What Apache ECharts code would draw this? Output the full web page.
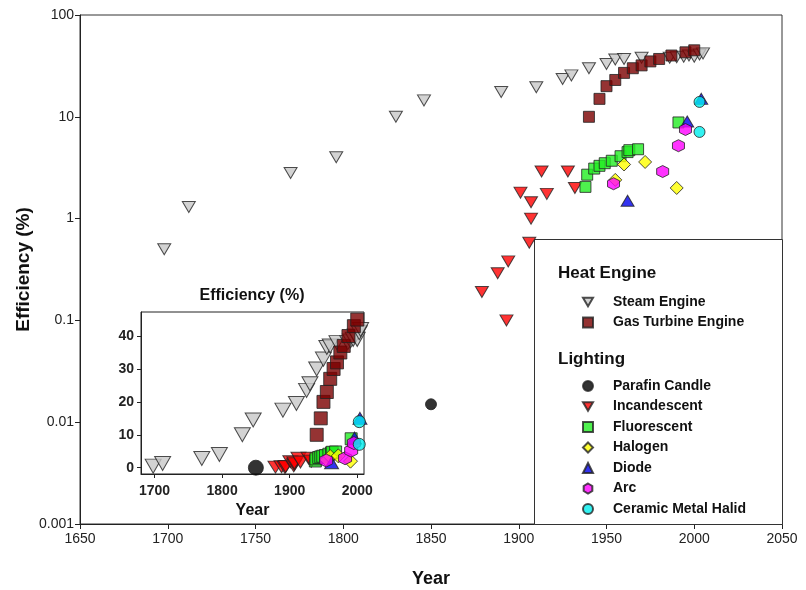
<!DOCTYPE html>
<html>
<head>
<meta charset="utf-8">
<title>Efficiency</title>
<script src="https://cdn.jsdelivr.net/npm/echarts@6/dist/echarts.min.js"></script>
<style>
  html, body { margin: 0; padding: 0; background: #fff; }
  #main { width: 806px; height: 590px; }
</style>
</head>
<body>
<div id="main"></div>
<script>
// data: [year, efficiency %]
var steamEngine = [[1698,0.5],[1712,1.3],[1770,2.8],[1796,4],[1830,10],[1846,14.5],[1890,17.5],[1910,19.5],
    [1925,23.5],[1930,25.5],[1940,30],[1950,33],[1955,36.5],[1960,37],[1970,38],[1986,38],[1990,38.5],
    [1994,39],[1997,40],[2000,39],[2003,41],[2005,42]];
var gasTurbine = [[1940,10],[1946,15],[1950,20],[1955,23],[1960,27],[1965,30],[1970,32],[1975,35],
    [1980,37],[1987,40],[1995,43],[2000,45]];
var parafinCandle = [[1850,0.015]];
var incandescent = [[1879,0.19],[1888,0.29],[1893,0.1],[1894,0.38],[1901,1.8],[1906,0.58],[1907,1.0],
    [1907,1.45],[1913,2.9],[1916,1.75],[1928,2.9],[1932,2.0]];
var fluorescent = [[1938,2.05],[1939,2.7],[1943,3.1],[1946,3.3],[1949,3.5],[1953,3.7],[1958,4.1],
    [1962,4.5],[1963,4.7],[1968,4.8],[1991,8.8]];
var halogen = [[1955,2.4],[1960,3.4],[1972,3.6],[1990,2.0]];
var diode = [[1962,1.5],[1996,9],[2004,15]];
var arc = [[1954,2.2],[1982,2.9],[1991,5.2],[1995,7.5]];
var ceramicMetalHalid = [[2003,14],[2003,7.1]];

var mainXTicks = [1650, 2050, 50];
var mainYTicks = [0.001, 100];
var insetXTicks = [1700, 1800, 1900, 2000];
var insetYTicks = [0, 10, 20, 30, 40];

var FONT = 'Liberation Sans, Arial, sans-serif';
var HEX = 'path://M0,-10L8.66,-5L8.66,5L0,10L-8.66,5L-8.66,-5Z';
var DOWN = 'path://M0,0L20,0L10,17Z';

// one series on the log chart + the same data on the inset
function mkSeries(name, data, symbol, size, insetSize, color){
    var style = { color: color, borderColor: '#222', borderWidth: 1 };
    var base = {
        name: name, type: 'scatter', data: data, symbol: symbol,
        itemStyle: style, emphasis: { disabled: true }, animation: false
    };
    var a = echarts.util.extend({}, base);
    a.symbolSize = size;
    var b = echarts.util.extend({}, base);
    b.symbolSize = insetSize;
    b.xAxisIndex = 1;
    b.yAxisIndex = 1;
    b.z = 10;
    return [a, b];
}

var series = [].concat(
    mkSeries('Steam Engine', steamEngine, DOWN, [13, 11], [16, 14], '#c8c8c8'),
    mkSeries('Gas Turbine Engine', gasTurbine, 'rect', 11, 13, '#7a0000'),
    mkSeries('Parafin Candle', parafinCandle, 'circle', 11, 15, '#000000'),
    mkSeries('Incandescent', incandescent, DOWN, [13, 11], [15, 12], '#ff0000'),
    mkSeries('Fluorescent', fluorescent, 'rect', 11, 12, '#22ee22'),
    mkSeries('Halogen', halogen, 'diamond', 13, 14, '#ffff00'),
    mkSeries('Diode', diode, 'triangle', [13, 11], [14, 12], '#0000ee'),
    mkSeries('Arc', arc, HEX, 12, 13, '#ff00ff'),
    mkSeries('Ceramic Metal Halid', ceramicMetalHalid, 'circle', 11, 12, '#00eeee')
);

var legendText = { fontFamily: FONT, fontWeight: 'bold', fontSize: 14, color: '#111', padding: [0, 0, 0, 15] };

function plain(v){ return String(v); }

var option = {
    backgroundColor: '#fff',
    animation: false,
    textStyle: { fontFamily: FONT },
    grid: [
        { left: 80, right: 24, top: 15, bottom: 66, show: true, borderColor: '#333', borderWidth: 1,
          backgroundColor: 'transparent', outerBoundsMode: 'none' },
        { left: 141, right: 442, top: 312, bottom: 116, show: true, borderColor: '#222', borderWidth: 1,
          backgroundColor: '#fff', z: 5, outerBoundsMode: 'none' }
    ],
    xAxis: [
        {
            type: 'value', gridIndex: 0, min: mainXTicks[0], max: mainXTicks[1], interval: mainXTicks[2],
            name: 'Year', nameLocation: 'middle', nameGap: 46, nameMoveOverlap: false,
            nameTextStyle: { fontFamily: FONT, fontWeight: 'bold', fontSize: 18, color: '#111' },
            axisLine: { lineStyle: { color: '#222' } },
            axisTick: { length: 5, lineStyle: { color: '#222' } },
            axisLabel: { fontSize: 14, color: '#222', margin: 8, formatter: plain },
            splitLine: { show: false }
        },
        {
            type: 'value', gridIndex: 1, min: 1680, max: 2010,
            name: 'Year', nameLocation: 'middle', nameGap: 29, nameMoveOverlap: false,
            nameTextStyle: { fontFamily: FONT, fontWeight: 'bold', fontSize: 16, color: '#111' },
            axisLine: { onZero: false, lineStyle: { color: '#222' } },
            axisTick: { length: 4, customValues: insetXTicks, lineStyle: { color: '#222' } },
            axisLabel: { fontSize: 14, fontWeight: 'bold', color: '#222', margin: 10, customValues: insetXTicks, formatter: plain },
            splitLine: { show: false }, z: 6
        }
    ],
    yAxis: [
        {
            type: 'log', logBase: 10, gridIndex: 0, min: mainYTicks[0], max: mainYTicks[1],
            name: 'Efficiency (%)', nameLocation: 'middle', nameGap: 47, nameMoveOverlap: false,
            nameTextStyle: { fontFamily: FONT, fontWeight: 'bold', fontSize: 19, color: '#111' },
            axisLine: { lineStyle: { color: '#222' } },
            axisTick: { length: 5, lineStyle: { color: '#222' } },
            axisLabel: { fontSize: 14, color: '#222', margin: 6,
                formatter: function(v){ return String(+v.toPrecision(3)); } },
            minorTick: { show: false },
            splitLine: { show: false }
        },
        {
            type: 'value', gridIndex: 1, min: -1.9, max: 47.3,
            name: 'Efficiency (%)', nameLocation: 'end', nameGap: 8, nameMoveOverlap: false,
            nameTextStyle: { fontFamily: FONT, fontWeight: 'bold', fontSize: 16, color: '#111', align: 'center', padding: [0, 0, 0, 222] },
            axisLine: { onZero: false, lineStyle: { color: '#222' } },
            axisTick: { length: 4, customValues: insetYTicks, lineStyle: { color: '#222' } },
            axisLabel: { fontSize: 14, fontWeight: 'bold', color: '#222', margin: 7, customValues: insetYTicks },
            splitLine: { show: false }, z: 6
        }
    ],
    graphic: [
        { type: 'rect', left: 534, top: 239, z: 1, shape: { width: 248, height: 285 },
          style: { fill: '#fff', stroke: '#333', lineWidth: 1 } },
        { type: 'text', left: 558, top: 265, z: 10,
          style: { text: 'Heat Engine', font: 'bold 17px ' + FONT, fill: '#111' } },
        { type: 'text', left: 558, top: 351, z: 10,
          style: { text: 'Lighting', font: 'bold 17px ' + FONT, fill: '#111' } }
    ],
    legend: [
        {
            orient: 'vertical', left: 577, top: 290, itemWidth: 10, itemHeight: 10, itemGap: 6.5,
            selectedMode: false, textStyle: legendText,
            data: ['Steam Engine', 'Gas Turbine Engine']
        },
        {
            orient: 'vertical', left: 577, top: 374, itemWidth: 10, itemHeight: 10, itemGap: 6.5,
            selectedMode: false, textStyle: legendText,
            data: ['Parafin Candle', 'Incandescent', 'Fluorescent', 'Halogen', 'Diode', 'Arc', 'Ceramic Metal Halid']
        }
    ],
    series: series
};

var chart = echarts.init(document.getElementById('main'), null, { renderer: 'canvas' });
chart.setOption(option);
</script>
</body>
</html>
